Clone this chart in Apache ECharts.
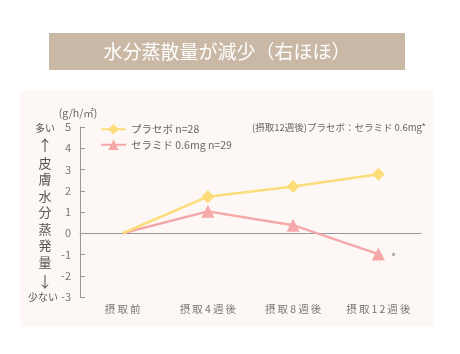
<!DOCTYPE html>
<html>
<head>
<meta charset="utf-8">
<script src="https://cdn.jsdelivr.net/npm/echarts@6/dist/echarts.min.js"></script>
<style>
  html, body { margin: 0; padding: 0; background: #fff; }
  #chart { width: 460px; height: 354px; }
</style>
</head>
<body>
<div id="chart"></div>
<script>
  // categories and values
  const categories = ['摂取前', '摂取4週後', '摂取8週後', '摂取12週後'];
  const placebo = [0, 1.72, 2.2, 2.78];
  const ceramide = [0, 1.03, 0.38, -0.98];
  const sideLabel = ['皮', '膚', '水', '分', '蒸', '発', '量'];

  const FONT = '"Noto Sans CJK JP", "Noto Sans", sans-serif';
  const chart = echarts.init(document.getElementById('chart'));

  let graphic = [
    // panel background
    { type: 'rect', z: -10, shape: { x: 20, y: 90, width: 413, height: 237 }, style: { fill: '#fdf8f5' } },
    // title box
    { type: 'rect', shape: { x: 49, y: 33, width: 356, height: 37 }, style: { fill: '#c9b8a5' } },
    { type: 'text', x: 227, y: 52, style: { text: '水分蒸散量が減少（右ほほ）', fill: '#fff', font: '19px ' + FONT, align: 'center', verticalAlign: 'middle' } },
    // unit
    { type: 'text', x: 78, y: 113, style: { text: '(g/h/㎡)', fill: '#666', font: '10.5px ' + FONT, align: 'center', verticalAlign: 'middle' } },
    // note
    { type: 'text', x: 426, y: 127, style: { text: '(摂取12週後)プラセボ：セラミド 0.6mg*', fill: '#666', font: '9.5px ' + FONT, align: 'right', verticalAlign: 'middle' } },
    { type: 'text', x: 45, y: 128, style: { text: '多い', fill: '#555', font: '10px ' + FONT, align: 'center', verticalAlign: 'middle' } },
    { type: 'text', x: 45, y: 145, style: { text: '↑', fill: '#555', font: '15px ' + FONT, align: 'center', verticalAlign: 'middle' } },
    { type: 'text', x: 45, y: 281, style: { text: '↓', fill: '#555', font: '15px ' + FONT, align: 'center', verticalAlign: 'middle' } },
    { type: 'text', x: 43, y: 297, style: { text: '少ない', fill: '#555', font: '10px ' + FONT, align: 'center', verticalAlign: 'middle' } }
  ];
  sideLabel.forEach(function (ch, i) {
    graphic.push({ type: 'text', x: 45, y: 163 + i * 16.5, style: { text: ch, fill: '#555', font: '13px ' + FONT, align: 'center', verticalAlign: 'middle' } });
  });

  // no marker on the starting point
  function points(values, extraLast) {
    return values.map(function (v, i) {
      if (i === 0) return { value: v, symbol: 'none' };
      if (i === values.length - 1 && extraLast) return Object.assign({ value: v }, extraLast);
      return v;
    });
  }

  const axisColor = '#999';
  const option = {
    animation: false,
    textStyle: { fontFamily: FONT },
    graphic: graphic,
    legend: {
      orient: 'vertical',
      left: 95,
      top: 119,
      itemGap: 5,
      itemWidth: 25,
      itemHeight: 13,
      textStyle: { color: '#666', fontSize: 10.5, fontFamily: FONT },
      data: ['プラセボ n=28', 'セラミド 0.6mg n=29']
    },
    grid: { left: 80, right: 39, top: 127, bottom: 57 },
    xAxis: {
      type: 'category',
      data: categories,
      boundaryGap: true,
      axisLine: { lineStyle: { color: axisColor, width: 1 } },
      axisTick: { inside: true, length: 5, lineStyle: { color: axisColor } },
      axisLabel: {
        color: '#777', fontSize: 10.5, margin: 7, fontFamily: FONT,
        formatter: function (s) { return s.split('').join('\u2009'); }
      }
    },
    yAxis: {
      type: 'value',
      min: -3,
      max: 5,
      interval: 1,
      axisLine: { show: true, lineStyle: { color: axisColor, width: 1 } },
      axisTick: { show: true, inside: true, length: 5, lineStyle: { color: axisColor } },
      splitLine: { show: false },
      axisLabel: { color: '#777', fontSize: 11, margin: 9, fontFamily: FONT }
    },
    series: [
      {
        name: 'プラセボ n=28',
        type: 'line',
        data: points(placebo),
        symbol: 'diamond',
        symbolSize: 13,
        lineStyle: { color: '#fddc7a', width: 2.5 },
        itemStyle: { color: '#fddc7a' },
        z: 3
      },
      {
        name: 'セラミド 0.6mg n=29',
        type: 'line',
        data: points(ceramide, {
          label: { show: true, position: 'right', distance: 6, formatter: '*', color: '#888', fontSize: 11, offset: [0, 3] }
        }),
        symbol: 'triangle',
        symbolSize: 13,
        lineStyle: { color: '#f5a8a8', width: 2.5 },
        itemStyle: { color: '#f5a8a8' },
        z: 2
      }
    ]
  };
  chart.setOption(option);
</script>
</body>
</html>
